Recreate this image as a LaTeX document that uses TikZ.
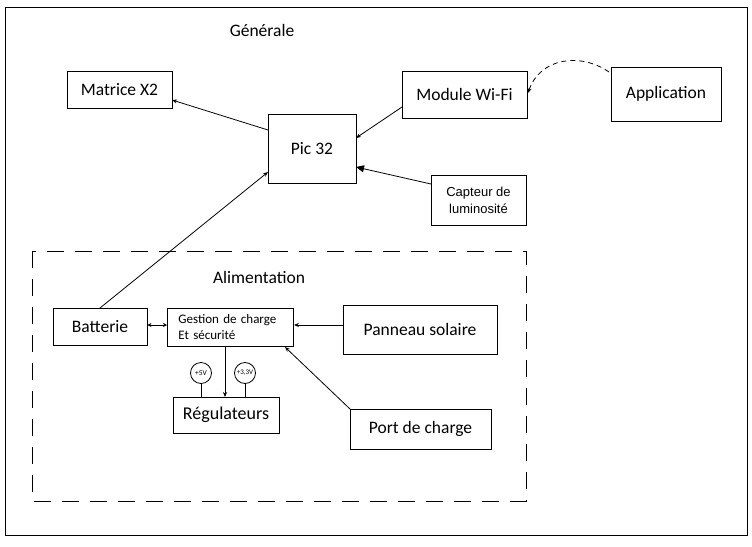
\documentclass[tikz,border=0pt]{standalone}
\usepackage{fontspec}
\setmainfont{Carlito}
\newfontfamily\arialfont{Liberation Sans}
\usetikzlibrary{arrows.meta,positioning}
\begin{document}
\begin{tikzpicture}[x=1pt,y=-1pt,
  box/.style={draw,line width=0.9pt,inner sep=0pt,font=\fontsize{17.5}{20}\selectfont},
  conn/.style={line width=0.8pt,-{Stealth[length=5pt,width=4pt]}},
  lbl/.style={font=\fontsize{17.5}{20}\selectfont}]
\useasboundingbox (0,0) rectangle (752,546);
\fill[white] (0,0) rectangle (752,546);
% outer frame
\draw[line width=1pt] (5,7) rectangle (747,535);
% dashed box
\draw[line width=1pt,dash pattern=on 17pt off 11pt] (32,251) rectangle (526,501);
\node[lbl] (gen) at (262,30) {Générale};
\node[lbl] (alim) at (259,277) {Alimentation};
% nodes
\node[box,minimum width=105pt,minimum height=37pt] (mat) at (119.5,89.5) {Matrice X2};
\node[box,minimum width=125pt,minimum height=47pt] (wifi) at (464.5,94.5) {Module Wi-Fi};
\node[box,minimum width=110pt,minimum height=54pt] (app) at (666,94) {Application};
\node[box,minimum width=95pt,minimum height=50pt,align=center,font=\arialfont\fontsize{13}{17}\selectfont] (capt) at (478.5,200) {Capteur de\\luminosité};
\node[box,minimum width=88pt,minimum height=69pt] (pic) at (312,148.5) {Pic 32};
\node[box,minimum width=94pt,minimum height=37pt] (bat) at (100,326.5) {Batterie};
\node[box,minimum width=126pt,minimum height=38pt,align=left,font=\fontsize{13}{16}\selectfont,anchor=north west,text width=104pt,inner xsep=11pt,inner ysep=2pt] (gest) at (167,308) {Gestion de charge\\Et sécurité};
\node[box,minimum width=154pt,minimum height=49pt] (pan) at (420,329.5) {Panneau solaire};
\node[box,minimum width=106pt,minimum height=36pt,font=\fontsize{18}{20}\selectfont] (reg) at (226,415) {Régulateurs};
\node[box,minimum width=141pt,minimum height=40pt] (port) at (420.5,429) {Port de charge};
\node[draw,line width=0.8pt,circle,minimum size=21pt,inner sep=0pt,font=\fontsize{7.5}{8}\selectfont] (v5) at (201,373) {+5V};
\node[draw,line width=0.8pt,circle,minimum size=21pt,inner sep=0pt,font=\fontsize{7}{8}\selectfont] (v33) at (245,373) {+3,3V};
% connectors
\draw[line width=0.8pt] (v5.south) -- (v5.south |- reg.north);
\draw[line width=0.8pt] (v33.south) -- (v33.south |- reg.north);
\coordinate (picA) at (268,130);
\coordinate (matA) at (172,100);
\draw[conn] (picA) -- (matA);
\coordinate (wifiA) at (402,107);
\coordinate (picB) at (356,138);
\draw[conn] (wifiA) -- (picB);
\coordinate (appA) at (609,72);
\coordinate (wifiB) at (528,93);
\draw[line width=0.8pt,dash pattern=on 5pt off 4pt,-{Stealth[length=5pt,width=4pt]}] (appA) .. controls (580,52) and (540,58) .. (wifiB);
\coordinate (captA) at (431,184);
\coordinate (picC) at (356,167);
\draw[line width=0.8pt,-{Triangle[length=8pt,width=7pt]}] (captA) -- (picC);
\coordinate (batA) at (100,308);
\coordinate (picD) at (268,172);
\draw[conn] (batA) -- (picD);
\draw[line width=0.8pt,{Stealth[length=4pt,width=4pt]}-{Stealth[length=4pt,width=4pt]}] (bat.east |- 0,325) -- (gest.west |- 0,325);
\draw[conn] (pan.west |- 0,325) -- (gest.east |- 0,325);
\coordinate (portA) at (350,409);
\coordinate (gestA) at (285,347);
\draw[conn] (portA) -- (gestA);
\draw[conn] (225,346) -- (225,397);
\end{tikzpicture}
\end{document}
